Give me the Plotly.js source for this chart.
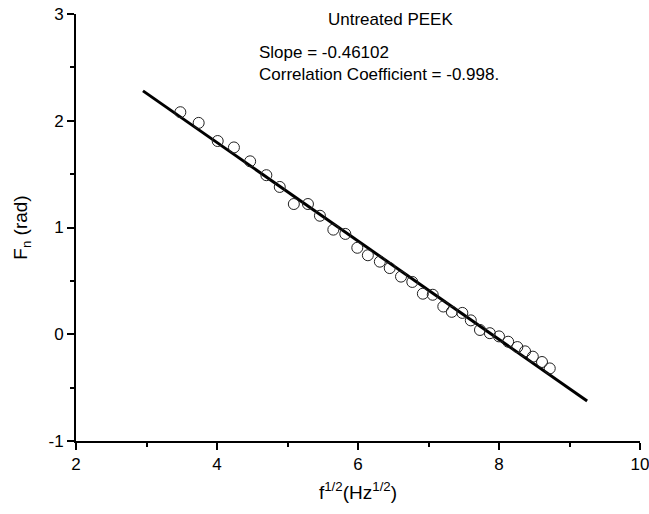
<!DOCTYPE html>
<html>
<head>
<meta charset="utf-8">
<script src="https://cdn.plot.ly/plotly-3.0.1.min.js"></script>
<style>html,body{margin:0;padding:0;background:#fff;}#chart{width:649px;height:514px;}</style>
</head>
<body>
<div id="chart"></div>
<script>
// Measured data: f^(1/2) (Hz^(1/2)) vs phase Fn (rad)
const sqrtF = [3.48, 3.74, 4.01, 4.24, 4.47, 4.70, 4.89, 5.09, 5.29, 5.46, 5.65, 5.82, 5.99, 6.14, 6.31, 6.45, 6.61, 6.77, 6.92, 7.06, 7.21, 7.33, 7.48, 7.60, 7.73, 7.87, 8.00, 8.13, 8.26, 8.37, 8.48, 8.61, 8.72];
const phaseFn = [2.08, 1.98, 1.81, 1.75, 1.62, 1.49, 1.38, 1.22, 1.22, 1.11, 0.98, 0.94, 0.81, 0.74, 0.68, 0.62, 0.54, 0.49, 0.38, 0.37, 0.26, 0.21, 0.20, 0.13, 0.04, 0.01, -0.02, -0.07, -0.12, -0.16, -0.21, -0.26, -0.32];
// Linear fit line end points
const fitX = [2.95, 9.25];
const fitY = [2.28, -0.625];
// Tick labels
const xTickVals = [2, 4, 6, 8, 10];
const xTickText = ['2', '4', '6', '8', '10'];
const yTickVals = [-1, 0, 1, 2, 3];
const yTickText = ['-1', '0', '1', '2', '3'];
const titleText = "Untreated PEEK";
const slopeText = "Slope = -0.46102";
const corrText = "Correlation Coefficient = -0.998.";

const font = 'Liberation Sans, Arial, Helvetica, sans-serif';

const traces = [
  {x: fitX, y: fitY, mode: 'lines', line: {color: '#000', width: 3}, hoverinfo: 'skip'},
  {x: sqrtF, y: phaseFn, mode: 'markers',
   marker: {symbol: 'circle-open', size: 11, color: '#222', line: {width: 1, color: '#222'}}}
];

const layout = {
  width: 649, height: 514,
  margin: {l: 76, r: 9, t: 14, b: 73},
  paper_bgcolor: '#fff', plot_bgcolor: '#fff',
  showlegend: false,
  font: {family: font, color: '#000', size: 16},
  xaxis: {
    range: [2, 10], tickmode: 'array', tickvals: xTickVals, ticktext: xTickText,
    ticklabeloverflow: 'allow',
    showgrid: false, zeroline: false,
    showline: true, linecolor: '#000', linewidth: 2,
    ticks: 'outside', ticklen: 7, tickwidth: 2, tickcolor: '#000',
    minor: {dtick: 1, ticks: 'outside', ticklen: 4, tickwidth: 2, tickcolor: '#000'},
    tickfont: {size: 17},
    title: {text: 'f<sup>1/2</sup>(Hz<sup>1/2</sup>)', font: {size: 19}, standoff: 12}
  },
  yaxis: {
    range: [-1, 3], tickmode: 'array', tickvals: yTickVals, ticktext: yTickText,
    ticklabeloverflow: 'allow',
    showgrid: false, zeroline: false,
    showline: true, linecolor: '#000', linewidth: 2,
    ticks: 'outside', ticklen: 7, tickwidth: 2, tickcolor: '#000',
    minor: {dtick: 0.5, ticks: 'outside', ticklen: 4, tickwidth: 2, tickcolor: '#000'},
    tickfont: {size: 17},
    title: {text: 'F<sub>n</sub> (rad)', font: {size: 19}, standoff: 16}
  },
  annotations: [
    {xref: 'paper', yref: 'paper', x: 0.557, y: 0.986, text: titleText, showarrow: false,
     xanchor: 'center', yanchor: 'middle', font: {size: 17}},
    {xref: 'paper', yref: 'paper', x: 0.321, y: 0.911, text: slopeText, showarrow: false,
     xanchor: 'left', yanchor: 'middle', font: {size: 17}},
    {xref: 'paper', yref: 'paper', x: 0.321, y: 0.859, text: corrText, showarrow: false,
     xanchor: 'left', yanchor: 'middle', font: {size: 17}}
  ]
};

Plotly.newPlot('chart', traces, layout, {displayModeBar: false, staticPlot: true});
</script>
</body>
</html>
